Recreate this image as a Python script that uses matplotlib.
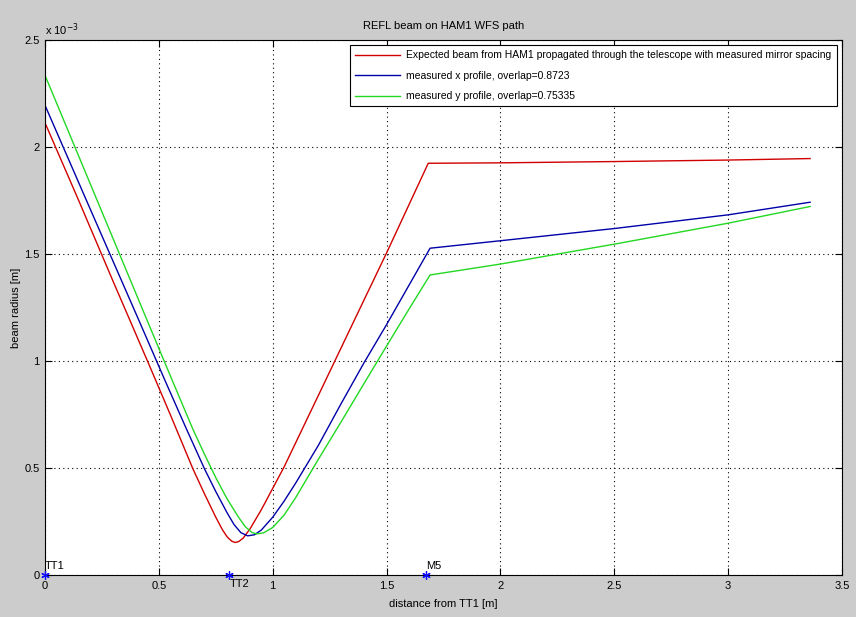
import matplotlib
matplotlib.use("Agg")
import matplotlib.pyplot as plt
from matplotlib.ticker import FuncFormatter

# beam radii in units of 1e-3 m
red_x = [0.0, 0.15, 0.30, 0.45, 0.55, 0.65, 0.70, 0.75, 0.78, 0.80, 0.82, 0.835, 0.85, 0.87,
         0.90, 0.95, 1.00, 1.05, 1.20, 1.40, 1.50, 1.683, 2.0, 2.5, 3.0, 3.36]
red_w = [2.113, 1.745, 1.37, 1.0, 0.75, 0.495, 0.38, 0.27, 0.21, 0.178, 0.158, 0.152, 0.156, 0.172,
         0.215, 0.305, 0.405, 0.505, 0.838, 1.283, 1.505, 1.924, 1.926, 1.932, 1.939, 1.946]

blue_x = [0.0, 0.183, 0.40, 0.527, 0.62, 0.70, 0.75, 0.80, 0.83, 0.86, 0.89, 0.92, 0.95, 1.00,
          1.05, 1.10, 1.20, 1.30, 1.40, 1.50, 1.691, 2.0, 2.5, 3.0, 3.36]
blue_w = [2.195, 1.748, 1.22, 0.909, 0.685, 0.497, 0.39, 0.29, 0.236, 0.198, 0.183, 0.188, 0.21, 0.27,
          0.345, 0.428, 0.605, 0.80, 0.99, 1.17, 1.527, 1.562, 1.619, 1.683, 1.742]

green_x = [0.0, 0.23, 0.45, 0.559, 0.65, 0.70, 0.75, 0.80, 0.85, 0.88, 0.91, 0.93, 0.96, 1.00,
           1.05, 1.10, 1.15, 1.20, 1.30, 1.40, 1.50, 1.60, 1.691, 2.0, 2.5, 3.0, 3.36]
green_w = [2.335, 1.748, 1.186, 0.909, 0.68, 0.565, 0.455, 0.355, 0.27, 0.225, 0.198, 0.192, 0.197, 0.222,
           0.28, 0.36, 0.45, 0.54, 0.715, 0.893, 1.07, 1.245, 1.402, 1.453, 1.546, 1.644, 1.722]

optics_x = [0.0, 0.81, 1.675]
optics_names = ["TT1", "TT2", "M5"]

legend_labels = [
    "Expected beam from HAM1 propagated through the telescope with measured mirror spacing",
    "measured x profile, overlap=0.8723",
    "measured y profile, overlap=0.75335",
]

plt.rcParams['font.family'] = ['Liberation Sans', 'DejaVu Sans']

fig = plt.figure(figsize=(8.56, 6.17), dpi=100, facecolor='#cccccc')
ax = fig.add_axes([45 / 856, 42 / 617, 797 / 856, 535 / 617])
ax.set_facecolor('white')

ax.plot(red_x, red_w, color='#d00000', lw=1.0, label=legend_labels[0])
ax.plot(blue_x, blue_w, color='#0000a8', lw=1.0, label=legend_labels[1])
ax.plot(green_x, green_w, color='#22d822', lw=1.0, label=legend_labels[2])

# matlab-style asterisk markers for the optics
ax.plot(optics_x, [0] * len(optics_x), linestyle='none', marker=(6, 2, 0), color='#1010ff',
        ms=6, mew=0.9, clip_on=False, zorder=5)
ax.text(optics_x[0], 0.02, optics_names[0], fontsize=8, ha='left', va='bottom')
ax.text(optics_x[1], -0.02, optics_names[1], fontsize=8, ha='left', va='top')
ax.text(optics_x[2], 0.02, optics_names[2], fontsize=8, ha='left', va='bottom')

ax.set_xlim(0, 3.5)
ax.set_ylim(0, 2.5)
ax.set_xticks([0, 0.5, 1, 1.5, 2, 2.5, 3, 3.5])
ax.set_yticks([0, 0.5, 1, 1.5, 2, 2.5])
fmt = FuncFormatter(lambda v, p: '%g' % v)
ax.xaxis.set_major_formatter(fmt)
ax.yaxis.set_major_formatter(fmt)
ax.tick_params(direction='in', top=True, right=True, length=5, width=0.8, labelsize=8, pad=4)
ax.grid(True, color='black', linestyle=(0, (1, 3)), linewidth=0.8)
for s in ax.spines.values():
    s.set_linewidth(0.8)

ax.text(0.0, 1.003, r'x 10$^{-3}$', transform=ax.transAxes, fontsize=8, ha='left', va='bottom')

ax.set_title("REFL beam on HAM1 WFS path", fontsize=8, pad=8)
ax.set_xlabel("distance from TT1 [m]", fontsize=8, labelpad=6)
ax.set_ylabel("beam radius [m]", fontsize=8, labelpad=2)

leg = ax.legend(loc='upper right', fontsize=7.5, frameon=True, fancybox=False,
                edgecolor='black', framealpha=1, handlelength=4.3, handletextpad=0.6,
                borderaxespad=0.5, labelspacing=1.0, borderpad=0.5)
leg.get_frame().set_linewidth(0.8)

fig.savefig("out.png", dpi=100, facecolor=fig.get_facecolor())
